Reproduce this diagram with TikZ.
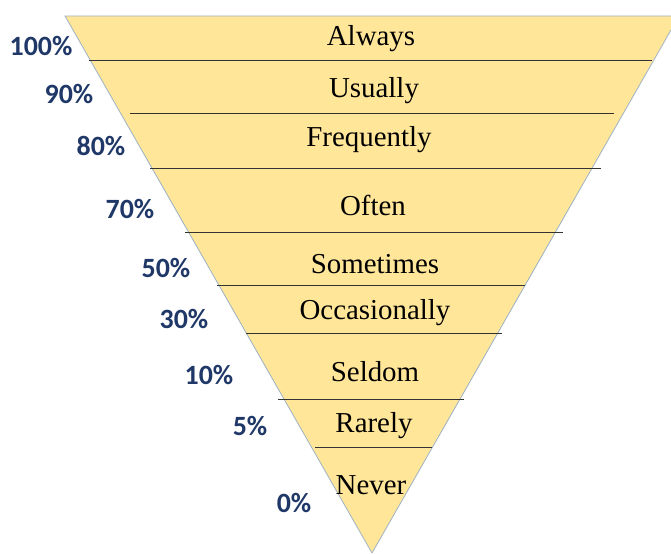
\documentclass[tikz,border=0pt]{standalone}
\usepackage{fontspec}
\setmainfont{Liberation Serif}
\newfontfamily\pctfont{Carlito}
\definecolor{funnelfill}{HTML}{FFE699}
\definecolor{funneledge}{HTML}{9DB1C4}
\definecolor{pctblue}{HTML}{1F3868}
\begin{document}
\begin{tikzpicture}[x=1bp,y=-1bp,
  band/.style={font=\fontsize{29}{31}\selectfont, inner sep=0pt},
  pct/.style={font=\pctfont\bfseries\fontsize{28}{30}\selectfont, text=pctblue, inner sep=0pt},
  divider/.style={draw=black!80, line width=0.9bp}]
\useasboundingbox (0,0) rectangle (671,554);
\clip (0,0) rectangle (671,554);
% inverted triangle
\coordinate (tl) at (65,16);
\coordinate (tr) at (679,16);
\coordinate (apex) at (372,553);
\fill[funnelfill] (tl) -- (tr) -- (apex) -- cycle;
\draw[funneledge, line width=0.8bp] (apex) -- (tl) -- (tr) -- (apex);
% band dividers
\draw[divider] (89,60) -- (652,60);
\draw[divider] (130,113) -- (614,113);
\draw[divider] (150,168) -- (601,168);
\draw[divider] (185,232) -- (563,232);
\draw[divider] (217,285) -- (525,285);
\draw[divider] (246,333) -- (502,333);
\draw[divider] (278,399) -- (464,399);
\draw[divider] (315,447) -- (432,447);
% band labels
\node[band] (always) at (371,39) {Always};
\node[band] (usually) at (374,91) {Usually};
\node[band] (frequently) at (369,140) {Frequently};
\node[band] (often) at (373,205) {Often};
\node[band] (sometimes) at (375,264) {Sometimes};
\node[band] (occasionally) at (375,313) {Occasionally};
\node[band] (seldom) at (375,372) {Seldom};
\node[band] (rarely) at (374,426) {Rarely};
\node[band] (never) at (371,485) {Never};
% percentages
\node[pct] (p100) at (41,46) {100\%};
\node[pct] (p90) at (69,94) {90\%};
\node[pct] (p80) at (101,146) {80\%};
\node[pct] (p70) at (130,209) {70\%};
\node[pct] (p50) at (166,268) {50\%};
\node[pct] (p30) at (184,319) {30\%};
\node[pct] (p10) at (209,375) {10\%};
\node[pct] (p5) at (250,426) {5\%};
\node[pct] (p0) at (294,503) {0\%};
\end{tikzpicture}
\end{document}
